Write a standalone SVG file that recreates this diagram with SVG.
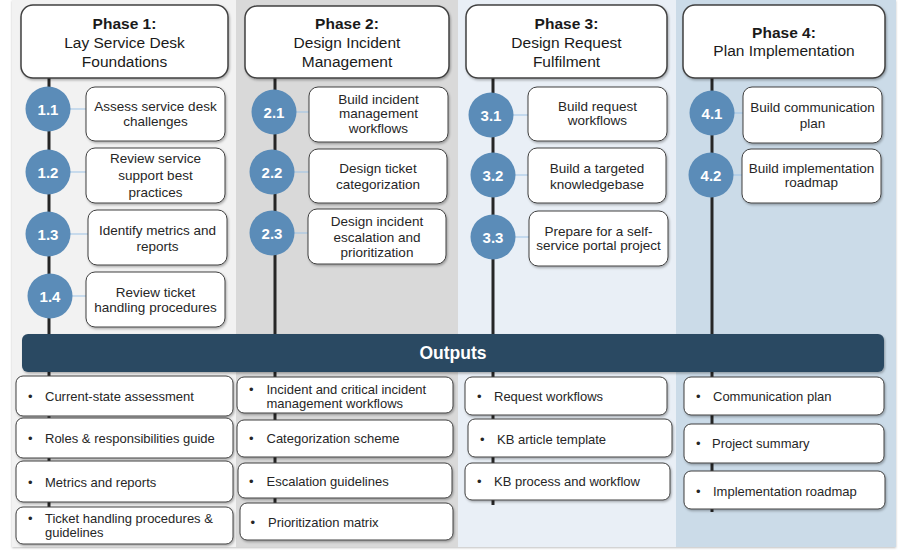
<svg xmlns="http://www.w3.org/2000/svg" width="900" height="550" viewBox="0 0 900 550">
<defs>
<filter id="sh" x="-10%" y="-10%" width="130%" height="140%">
<feDropShadow dx="1" dy="1.5" stdDeviation="1" flood-color="#000" flood-opacity="0.3"/>
</filter>
<filter id="bgsh" x="-5%" y="-5%" width="110%" height="110%">
<feDropShadow dx="0" dy="1" stdDeviation="1.2" flood-color="#000" flood-opacity="0.25"/>
</filter>
</defs>
<style>
.hdr{fill:#fff;stroke:#404040;stroke-width:1.5}
.box{fill:#fff;stroke:#404040;stroke-width:1}
.circ{fill:#5b8cb8}
.num{font-family:"Liberation Sans",Arial,sans-serif;font-size:15px;font-weight:bold;fill:#fff;text-anchor:middle}
.ph{font-family:"Liberation Sans",Arial,sans-serif;font-size:15.5px;fill:#1a1a1a;text-anchor:middle}
.phb{font-weight:bold}
.tk{font-family:"Liberation Sans",Arial,sans-serif;font-size:13.5px;fill:#262626;text-anchor:middle}
.out{font-family:"Liberation Sans",Arial,sans-serif;font-size:13px;fill:#262626}
.spine{stroke:#262626;stroke-width:3}
.link{stroke:#9dc3e6;stroke-width:1}
</style>
<rect width="900" height="550" fill="#ffffff"/>
<g id="backgrounds" filter="url(#bgsh)">
<rect x="12" y="0" width="224" height="547" fill="#f2f2f2"/>
<rect x="236" y="0" width="222" height="547" fill="#d9d9d9"/>
<rect x="458" y="0" width="218" height="547" fill="#e9eff6"/>
<rect x="676" y="0" width="220" height="547" fill="#cbdbe8"/>
</g>
<g id="connectors">
<line class="spine" x1="49" y1="78" x2="49" y2="540"/>
<line class="spine" x1="275" y1="78" x2="275" y2="540"/>
<line class="spine" x1="493" y1="78" x2="493" y2="505"/>
<line class="spine" x1="712" y1="78" x2="712" y2="512"/>
<line class="link" x1="70" y1="109" x2="86" y2="109"/>
<line class="link" x1="70" y1="172" x2="86" y2="172"/>
<line class="link" x1="70" y1="234" x2="88" y2="234"/>
<line class="link" x1="72" y1="296" x2="86" y2="296"/>
<line class="link" x1="296" y1="112" x2="309" y2="112"/>
<line class="link" x1="294" y1="172" x2="309" y2="172"/>
<line class="link" x1="294" y1="233" x2="308" y2="233"/>
<line class="link" x1="513" y1="115" x2="528" y2="115"/>
<line class="link" x1="515" y1="175" x2="528" y2="175"/>
<line class="link" x1="515" y1="237" x2="529" y2="237"/>
<line class="link" x1="734" y1="113" x2="743" y2="113"/>
<line class="link" x1="733" y1="175" x2="742" y2="175"/>
</g>
<g id="phase1" filter="url(#sh)">
<rect class="hdr" x="21" y="5" width="207" height="73" rx="12"/>
</g>
<text class="ph phb" x="124.5" y="29">Phase 1:</text>
<text class="ph" x="124.5" y="47.5">Lay Service Desk</text>
<text class="ph" x="124.5" y="66.5">Foundations</text>
<g id="phase2" filter="url(#sh)">
<rect class="hdr" x="245" y="6" width="204" height="72" rx="12"/>
</g>
<text class="ph phb" x="347" y="29">Phase 2:</text>
<text class="ph" x="347" y="47.5">Design Incident</text>
<text class="ph" x="347" y="66.5">Management</text>
<g id="phase3" filter="url(#sh)">
<rect class="hdr" x="466" y="5" width="201" height="73" rx="12"/>
</g>
<text class="ph phb" x="566.5" y="29">Phase 3:</text>
<text class="ph" x="566.5" y="47.5">Design Request</text>
<text class="ph" x="566.5" y="66.5">Fulfilment</text>
<g id="phase4" filter="url(#sh)">
<rect class="hdr" x="683" y="5" width="202" height="73" rx="12"/>
</g>
<text class="ph phb" x="784" y="38">Phase 4:</text>
<text class="ph" x="784" y="56">Plan Implementation</text>

<g id="step1-1">
<circle class="circ" cx="48" cy="109" r="22.5"/>
<text class="num" x="48" y="114.5">1.1</text>
<rect class="box" x="86" y="87" width="139" height="54" rx="9" filter="url(#sh)"/>
<text class="tk" x="155.5" y="111">Assess service desk</text>
<text class="tk" x="155.5" y="126">challenges</text>
</g>
<g id="step1-2">
<circle class="circ" cx="48" cy="172" r="22.5"/>
<text class="num" x="48" y="177.5">1.2</text>
<rect class="box" x="86" y="148" width="139" height="55" rx="9" filter="url(#sh)"/>
<text class="tk" x="155.5" y="163">Review service</text>
<text class="tk" x="155.5" y="180">support best</text>
<text class="tk" x="155.5" y="197">practices</text>
</g>
<g id="step1-3">
<circle class="circ" cx="48" cy="234" r="22.5"/>
<text class="num" x="48" y="239.5">1.3</text>
<rect class="box" x="88" y="210" width="139" height="55" rx="9" filter="url(#sh)"/>
<text class="tk" x="157.5" y="235">Identify metrics and</text>
<text class="tk" x="157.5" y="251">reports</text>
</g>
<g id="step1-4">
<circle class="circ" cx="50" cy="296" r="22.5"/>
<text class="num" x="50" y="301.5">1.4</text>
<rect class="box" x="86" y="272" width="139" height="55" rx="9" filter="url(#sh)"/>
<text class="tk" x="155.5" y="297">Review ticket</text>
<text class="tk" x="155.5" y="312">handling procedures</text>
</g>
<g id="step2-1">
<circle class="circ" cx="274" cy="112" r="22.5"/>
<text class="num" x="274" y="117.5">2.1</text>
<rect class="box" x="309" y="87" width="139" height="55" rx="9" filter="url(#sh)"/>
<text class="tk" x="378.5" y="104">Build incident</text>
<text class="tk" x="378.5" y="118">management</text>
<text class="tk" x="378.5" y="133">workflows</text>
</g>
<g id="step2-2">
<circle class="circ" cx="272" cy="172" r="22.5"/>
<text class="num" x="272" y="177.5">2.2</text>
<rect class="box" x="309" y="149" width="138" height="54" rx="9" filter="url(#sh)"/>
<text class="tk" x="378" y="173">Design ticket</text>
<text class="tk" x="378" y="189">categorization</text>
</g>
<g id="step2-3">
<circle class="circ" cx="272" cy="233" r="22.5"/>
<text class="num" x="272" y="238.5">2.3</text>
<rect class="box" x="308" y="209" width="138" height="55" rx="9" filter="url(#sh)"/>
<text class="tk" x="377" y="226">Design incident</text>
<text class="tk" x="377" y="242">escalation and</text>
<text class="tk" x="377" y="257">prioritization</text>
</g>
<g id="step3-1">
<circle class="circ" cx="491" cy="115" r="22.5"/>
<text class="num" x="491" y="120.5">3.1</text>
<rect class="box" x="528" y="87" width="139" height="54" rx="9" filter="url(#sh)"/>
<text class="tk" x="597.5" y="111">Build request</text>
<text class="tk" x="597.5" y="125">workflows</text>
</g>
<g id="step3-2">
<circle class="circ" cx="493" cy="175" r="22.5"/>
<text class="num" x="493" y="180.5">3.2</text>
<rect class="box" x="528" y="148" width="138" height="55" rx="9" filter="url(#sh)"/>
<text class="tk" x="597" y="173">Build a targeted</text>
<text class="tk" x="597" y="189">knowledgebase</text>
</g>
<g id="step3-3">
<circle class="circ" cx="493" cy="237" r="22.5"/>
<text class="num" x="493" y="242.5">3.3</text>
<rect class="box" x="529" y="211" width="139" height="55" rx="9" filter="url(#sh)"/>
<text class="tk" x="598.5" y="236">Prepare for a self-</text>
<text class="tk" x="598.5" y="250">service portal project</text>
</g>
<g id="step4-1">
<circle class="circ" cx="712" cy="113" r="22.5"/>
<text class="num" x="712" y="118.5">4.1</text>
<rect class="box" x="743" y="87" width="139" height="56" rx="9" filter="url(#sh)"/>
<text class="tk" x="812.5" y="112">Build communication</text>
<text class="tk" x="812.5" y="128">plan</text>
</g>
<g id="step4-2">
<circle class="circ" cx="711" cy="175" r="22.5"/>
<text class="num" x="711" y="180.5">4.2</text>
<rect class="box" x="742" y="149" width="139" height="54" rx="9" filter="url(#sh)"/>
<text class="tk" x="811.5" y="173">Build implementation</text>
<text class="tk" x="811.5" y="187">roadmap</text>
</g>

<g id="outputs-bar">
<rect x="22" y="334" width="862" height="38" rx="6" fill="#2c4a62" filter="url(#sh)"/>
<text x="453" y="359" font-family="'Liberation Sans',Arial,sans-serif" font-size="17.5" font-weight="bold" fill="#fff" text-anchor="middle">Outputs</text>
</g>

<g id="out1-1">
<rect class="box" x="16" y="376" width="217" height="40" rx="7" filter="url(#sh)"/>
<text class="out" x="28" y="400.5">•</text><text class="out" x="45" y="400.5">Current-state assessment</text>
</g>
<g id="out1-2">
<rect class="box" x="16" y="418" width="217" height="40" rx="7" filter="url(#sh)"/>
<text class="out" x="28" y="442.5">•</text><text class="out" x="45" y="442.5">Roles &amp; responsibilities guide</text>
</g>
<g id="out1-3">
<rect class="box" x="16" y="461" width="217" height="41" rx="7" filter="url(#sh)"/>
<text class="out" x="28" y="486.5">•</text><text class="out" x="45" y="486.5">Metrics and reports</text>
</g>
<g id="out1-4">
<rect class="box" x="16" y="507" width="217" height="37" rx="7" filter="url(#sh)"/>
<text class="out" x="28" y="523">•</text><text class="out" x="45" y="523">Ticket handling procedures &amp;</text>
<text class="out" x="45" y="537">guidelines</text>
</g>
<g id="out2-1">
<rect class="box" x="237" y="377" width="216" height="36" rx="7" filter="url(#sh)"/>
<text class="out" x="249" y="393.5">•</text><text class="out" x="266.5" y="393.5">Incident and critical incident</text>
<text class="out" x="266.5" y="407.5">management workflows</text>
</g>
<g id="out2-2">
<rect class="box" x="237" y="420" width="216" height="37" rx="7" filter="url(#sh)"/>
<text class="out" x="249" y="443">•</text><text class="out" x="266.5" y="443">Categorization scheme</text>
</g>
<g id="out2-3">
<rect class="box" x="238" y="463" width="214" height="35" rx="7" filter="url(#sh)"/>
<text class="out" x="249" y="485.5">•</text><text class="out" x="266.5" y="485.5">Escalation guidelines</text>
</g>
<g id="out2-4">
<rect class="box" x="240" y="503" width="213" height="37" rx="7" filter="url(#sh)"/>
<text class="out" x="250.5" y="527">•</text><text class="out" x="268" y="527">Prioritization matrix</text>
</g>
<g id="out3-1">
<rect class="box" x="465" y="377" width="202" height="38" rx="7" filter="url(#sh)"/>
<text class="out" x="477" y="400.5">•</text><text class="out" x="494" y="400.5">Request workflows</text>
</g>
<g id="out3-2">
<rect class="box" x="468" y="419" width="204" height="38" rx="7" filter="url(#sh)"/>
<text class="out" x="480" y="443.5">•</text><text class="out" x="497" y="443.5">KB article template</text>
</g>
<g id="out3-3">
<rect class="box" x="465" y="463" width="205" height="37" rx="7" filter="url(#sh)"/>
<text class="out" x="477" y="485.5">•</text><text class="out" x="494" y="485.5">KB process and workflow</text>
</g>
<g id="out4-1">
<rect class="box" x="684" y="377" width="200" height="38" rx="7" filter="url(#sh)"/>
<text class="out" x="696" y="400.5">•</text><text class="out" x="713" y="400.5">Communication plan</text>
</g>
<g id="out4-2">
<rect class="box" x="684" y="424" width="200" height="39" rx="7" filter="url(#sh)"/>
<text class="out" x="696" y="447.5">•</text><text class="out" x="712" y="447.5">Project summary</text>
</g>
<g id="out4-3">
<rect class="box" x="684" y="471" width="201" height="38" rx="7" filter="url(#sh)"/>
<text class="out" x="696" y="495.5">•</text><text class="out" x="713" y="495.5">Implementation roadmap</text>
</g>
</svg>
